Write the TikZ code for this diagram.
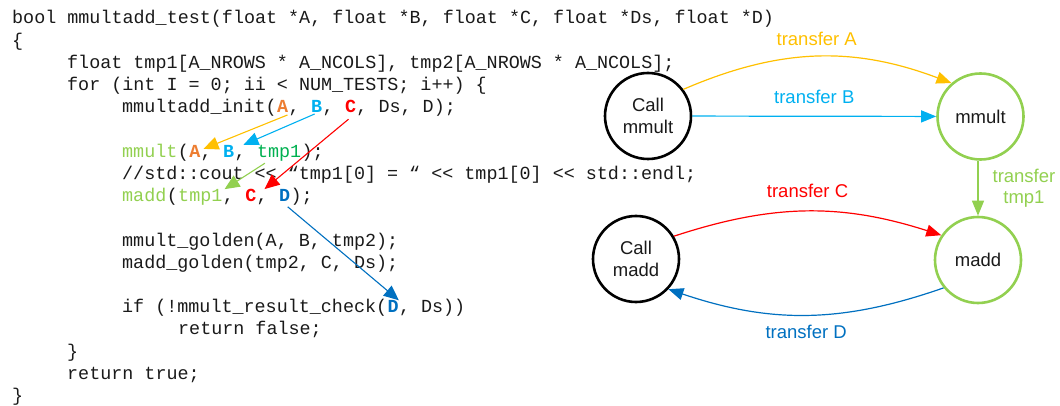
\documentclass[tikz,border=0pt]{standalone}
\usepackage{fontspec}
\setmainfont{Liberation Sans}
\newfontfamily\codefont{Liberation Mono}
\usetikzlibrary{arrows.meta,positioning}

\definecolor{ink}{HTML}{1A1A1A}
\definecolor{orng}{HTML}{ED7D31}
\definecolor{ylw}{HTML}{FFC000}
\definecolor{lblue}{HTML}{00B0F0}
\definecolor{cred}{HTML}{FF0000}
\definecolor{dblue}{HTML}{0070C0}
\definecolor{hwgreen}{HTML}{92D050}
\definecolor{tmpgreen}{HTML}{00B050}

\newcommand\codesize{\fontsize{18.4}{22}\selectfont}
\newcommand\graphsize{\fontsize{18.5}{21.5}\selectfont}
\newcommand\sep{\mbox{,\ }}

\tikzset{
  code/.style={font=\codefont\codesize, inner sep=0pt, anchor=base west, text=ink},
  arg/.style={code, font=\codefont\codesize\bfseries, text=#1},
  pass/.style={-{Triangle[length=15pt,width=13pt]}, line width=1.1pt},
  call/.style={circle, draw=black, line width=2.6pt, minimum size=86pt, inner sep=0pt,
    align=center, font=\graphsize, text=ink},
  hwnode/.style={call, draw=hwgreen},
  flow/.style={-{Triangle[length=15pt,width=12pt]}, line width=1.2pt},
  lbl/.style={font=\graphsize, inner sep=0pt}
}

\begin{document}
\begin{tikzpicture}[x=1pt, y=-1pt]
  \useasboundingbox (0,0) rectangle (1060,406);

  % the code
  \node[code] (c0) at (12,24) {bool mmultadd\_test(float *A, float *B, float *C, float *Ds, float *D)};
  \node[code] (c1) at (12,46.2) {\{};
  \node[code] (c2) at (67,68.4) {float tmp1[A\_NROWS * A\_NCOLS], tmp2[A\_NROWS * A\_NCOLS];};
  \node[code] (c3) at (67,90.6) {for (int I = 0; ii < NUM\_TESTS; i++) \{};

  \node[code] (in0) at (122,112.8) {mmultadd\_init(};
  \node[arg=orng] (iA) at (in0.base east) {A};
  \node[code] (in1) at (iA.base east) {\sep};
  \node[arg=lblue] (iB) at (in1.base east) {B};
  \node[code] (in2) at (iB.base east) {\sep};
  \node[arg=cred] (iC) at (in2.base east) {C};
  \node[code] (in3) at (iC.base east) {, Ds, D);};

  \node[code, text=hwgreen] (mm0) at (122,157.2) {mmult};
  \node[code] (mm1) at (mm0.base east) {(};
  \node[arg=orng] (mA) at (mm1.base east) {A};
  \node[code] (mm2) at (mA.base east) {\sep};
  \node[arg=lblue] (mB) at (mm2.base east) {B};
  \node[code] (mm3) at (mB.base east) {\sep};
  \node[code, text=tmpgreen] (mT) at (mm3.base east) {tmp1};
  \node[code] (mm4) at (mT.base east) {);};

  \node[code] (c7) at (122,179.4) {//std::cout << “tmp1[0] = “ << tmp1[0] << std::endl;};

  \node[code, text=hwgreen] (ad0) at (122,201.6) {madd};
  \node[code] (ad1) at (ad0.base east) {(};
  \node[code, text=hwgreen] (aT) at (ad1.base east) {tmp1};
  \node[code] (ad2) at (aT.base east) {\sep};
  \node[arg=cred] (aC) at (ad2.base east) {C};
  \node[code] (ad3) at (aC.base east) {\sep};
  \node[arg=dblue] (aD) at (ad3.base east) {D};
  \node[code] (ad4) at (aD.base east) {);};

  \node[code] (c10) at (122,246) {mmult\_golden(A, B, tmp2);};
  \node[code] (c11) at (122,268.2) {madd\_golden(tmp2, C, Ds);};

  \node[code] (rc0) at (122,312.6) {if (!mmult\_result\_check(};
  \node[arg=dblue] (rD) at (rc0.base east) {D};
  \node[code] (rc1) at (rD.base east) {, Ds))};

  \node[code] (c14) at (178,334.8) {return false;};
  \node[code] (c15) at (67,357) {\}};
  \node[code] (c16) at (67,379.2) {return true;};
  \node[code] (c17) at (12,401.4) {\}};

  % arguments passed along
  \draw[pass, ylw] ([shift={(-1,2)}]iA.south east) -- ([shift={(3,4)}]mA.north east);
  \draw[pass, lblue] ([shift={(-2,1)}]iB.south) -- ([shift={(9,0)}]mB.north east);
  \draw[pass, cred] ([shift={(-2,6)}]iC.south) -- ([shift={(8,0)}]aC.north east);
  \draw[pass, hwgreen] ([shift={(8,2)}]mT.south west) -- ([shift={(2,0)}]aT.north east);
  \draw[pass, dblue] ([shift={(3,5)}]aD.south) -- (rD.north east);

  % the calls
  \node[call] (cmm) at (648,116) {Call\\mmult};
  \node[hwnode] (mm) at (980.5,116.5) {mmult};
  \node[hwnode] (ma) at (978,260) {madd};
  \node[call] (cma) at (636,259) {Call\\madd};

  \draw[flow, ylw] (cmm.37) to[bend left=22]
    node[lbl, midway, above=10.5pt, text=ylw] {transfer A} (mm.131);
  \draw[flow, lblue] (cmm) --
    node[lbl, midway, above=11.5pt, text=lblue] {transfer B} (mm);
  \draw[flow, hwgreen] (ma.north |- mm.south) --
    node[lbl, midway, right=14pt, align=center, text=hwgreen] {transfer\\tmp1} (ma.north);
  \draw[flow, cred] (cma.31) to[bend left=18]
    node[lbl, midway, above=13.5pt, text=cred] {transfer C} (ma.146);
  \draw[flow, dblue] (ma.219) to[bend left=19]
    node[lbl, midway, below=9.5pt, text=dblue] {transfer D} (cma.317);
\end{tikzpicture}
\end{document}
